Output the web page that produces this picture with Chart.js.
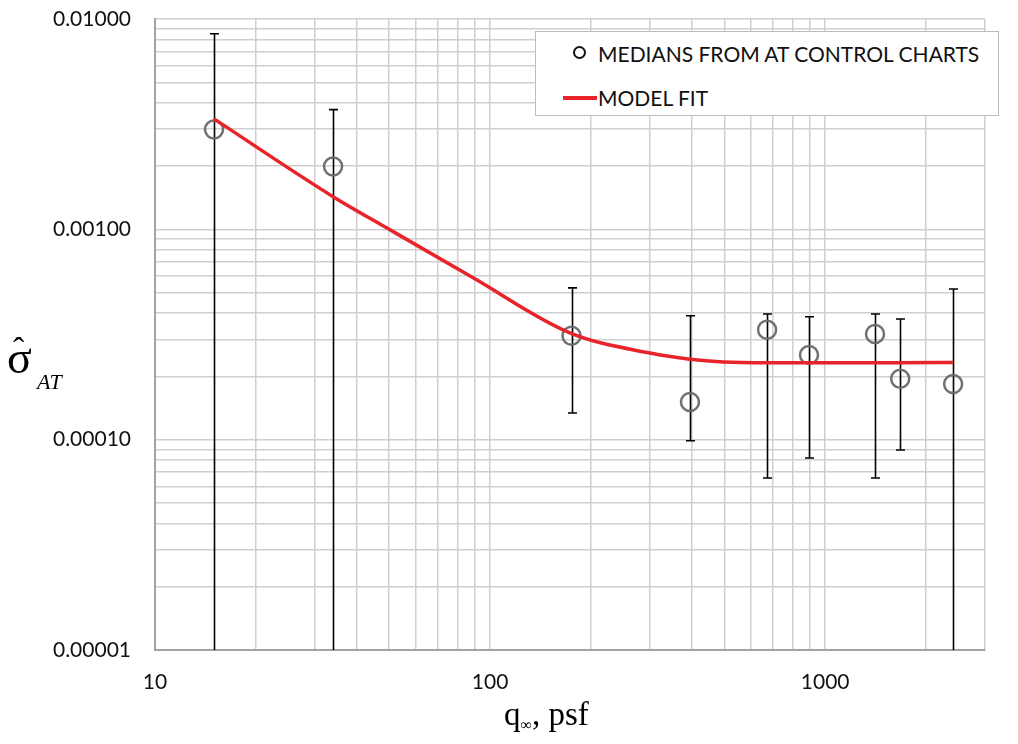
<!DOCTYPE html>
<html>
<head>
<meta charset="utf-8">
<script src="https://cdn.jsdelivr.net/npm/chart.js@4.4.1/dist/chart.umd.min.js"></script>
<style>
  html, body { margin: 0; padding: 0; background: #fff; }
  #wrap { position: relative; width: 1018px; height: 744px; overflow: hidden; }
  #c { position: absolute; left: 0; top: 0; }
  .ov { position: absolute; white-space: nowrap; color: #000; }
  #legend { position: absolute; left: 535px; top: 31px; width: 464px; height: 85px;
            border: 1px solid #bdbdbd; background: #fff; box-sizing: border-box; }
  .lgtext { position: absolute; left: 62px; font-family: Lato, 'Open Sans', sans-serif; font-size: 21px;
            line-height: 24px; color: #111; }
  .lgcirc { position: absolute; left: 37px; top: 14px; width: 13px; height: 13px; border: 2px solid #111;
            border-radius: 50%; box-sizing: border-box; }
  .lgline { position: absolute; left: 27px; top: 64px; width: 34px; height: 4px; background: #e8242a; }
  .serif { font-family: 'Liberation Serif', 'DejaVu Serif', serif; }
</style>
</head>
<body>
<div id="wrap">
  <canvas id="c" width="1018" height="744"></canvas>
  <div id="legend">
    <div class="lgcirc"></div>
    <div class="lgtext" style="top:10px;">MEDIANS FROM AT CONTROL CHARTS</div>
    <div class="lgline"></div>
    <div class="lgtext" style="top:54px;">MODEL FIT</div>
  </div>
  <div class="ov serif" style="left:7px; top:333px; font-size:46px; line-height:50px;">σ</div>
  <div class="ov serif" style="left:13px; top:333px; font-size:34px; line-height:34px;">ˆ</div>
  <div class="ov serif" style="left:37px; top:369px; font-size:22px; line-height:26px; font-style:italic;">AT</div>
  <div class="ov serif" style="left:504px; top:695px; font-size:33px; line-height:38px;">q<span style="font-size:16px; position:relative; top:5px;">∞</span>, psf</div>
</div>
<script>
// ---- data ----
const medianQ   = [15, 34, 175, 395, 671, 895, 1409, 1675, 2410];
const medianSig = [0.00298, 0.00199, 0.000312, 0.000151, 0.000333, 0.000253, 0.000318, 0.000195, 0.000184];
const errHigh   = [0.00851, 0.00371, 0.000527, 0.000388, 0.000396, 0.000384, 0.000396, 0.000375, 0.00052];
const errLow    = [0.000001, 0.000001, 0.000134, 0.0000988, 0.0000657, 0.0000818, 0.0000657, 0.0000893, 0.000001];

const fitQ   = [15, 34, 50, 89, 173, 300, 395, 497, 671, 895, 1409, 1675, 2410];
const fitSig = [0.00335, 0.00143, 0.00100, 0.000588, 0.000322, 0.000258, 0.000241, 0.000234, 0.000232, 0.000232, 0.000232, 0.000232, 0.000233];

const xTickDecades = [10, 100, 1000];
const yTickDecades = [0.00001, 0.0001, 0.001, 0.01];

// grid values (1..9 multiples of each decade)
function logGrid(minV, maxV) {
  const out = [];
  for (let e = Math.floor(Math.log10(minV)); e <= Math.ceil(Math.log10(maxV)); e++) {
    for (let s = 1; s <= 9; s++) {
      const v = parseFloat((s * Math.pow(10, e)).toPrecision(6));
      if (v >= minV * 0.9999 && v <= maxV * 1.0001) out.push(v);
    }
  }
  return out;
}
const X_MIN = 10, X_MAX = 3000, Y_MIN = 0.00001, Y_MAX = 0.01;

const errorBars = {
  id: 'errorBars',
  beforeDatasetsDraw(chart) {
    const { ctx, chartArea, scales } = chart;
    const xs = scales.x, ys = scales.y;
    ctx.save();
    ctx.beginPath();
    ctx.rect(chartArea.left, chartArea.top, chartArea.right - chartArea.left, chartArea.bottom - chartArea.top);
    ctx.clip();
    ctx.strokeStyle = '#000';
    ctx.lineWidth = 1.6;
    const cap = 4.5;
    medianQ.forEach((q, i) => {
      const px = Math.round(xs.getPixelForValue(q)) + 0.5;
      const yt = ys.getPixelForValue(errHigh[i]);
      let yb = ys.getPixelForValue(errLow[i]);
      const bottomCap = yb <= chartArea.bottom;
      yb = Math.min(yb, chartArea.bottom + 2);
      ctx.beginPath();
      ctx.moveTo(px, yt); ctx.lineTo(px, yb);
      ctx.moveTo(px - cap, yt); ctx.lineTo(px + cap, yt);
      if (bottomCap) { ctx.moveTo(px - cap, yb); ctx.lineTo(px + cap, yb); }
      ctx.stroke();
    });
    ctx.restore();
  }
};

const PAD_TOP = 19, PAD_RIGHT = 33, Y_AXIS_W = 155, X_AXIS_H = 94;

new Chart(document.getElementById('c'), {
  type: 'scatter',
  data: {
    datasets: [
      {
        label: 'MODEL FIT',
        type: 'line',
        data: fitQ.map((q, i) => ({ x: q, y: fitSig[i] })),
        borderColor: '#e8242a',
        borderWidth: 3.5,
        pointRadius: 0,
        fill: false,
        cubicInterpolationMode: 'monotone',
        order: 0
      },
      {
        label: 'MEDIANS FROM AT CONTROL CHARTS',
        data: medianQ.map((q, i) => ({ x: q, y: medianSig[i] })),
        showLine: false,
        pointStyle: 'circle',
        pointRadius: 9,
        pointBorderWidth: 2.5,
        borderColor: 'rgba(105,105,105,0.95)',
        backgroundColor: 'rgba(0,0,0,0)',
        order: 1
      }
    ]
  },
  options: {
    responsive: false,
    animation: false,
    devicePixelRatio: 1,
    layout: { padding: { top: PAD_TOP, right: PAD_RIGHT, left: 0, bottom: 0 } },
    plugins: { legend: { display: false }, tooltip: { enabled: false } },
    scales: {
      x: {
        type: 'logarithmic',
        min: X_MIN, max: X_MAX,
        afterBuildTicks: (s) => { s.ticks = logGrid(X_MIN, X_MAX).map(v => ({ value: v })); },
        afterFit: (s) => { s.height = X_AXIS_H; s.paddingLeft = 0; s.paddingRight = 0; },
        ticks: {
          autoSkip: false, maxRotation: 0, padding: 20,
          color: '#111',
          font: { family: 'Lato', size: 21 },
          callback: (v) => xTickDecades.some(d => Math.abs(d - v) < 1e-9) ? String(v) : ''
        },
        grid: { color: '#cfcfcf', lineWidth: 1.5, drawTicks: false },
        border: { color: '#a3a3a3', width: 2 }
      },
      y: {
        type: 'logarithmic',
        min: Y_MIN, max: Y_MAX,
        afterBuildTicks: (s) => { s.ticks = logGrid(Y_MIN, Y_MAX).map(v => ({ value: v })); },
        afterFit: (s) => { s.width = Y_AXIS_W; s.paddingTop = 0; s.paddingBottom = 0; },
        ticks: {
          autoSkip: false, padding: 24,
          color: '#111',
          font: { family: 'Lato', size: 21 },
          callback: (v) => yTickDecades.some(d => Math.abs(d - v) / d < 1e-6) ? Number(v).toFixed(5) : ''
        },
        grid: { color: '#cfcfcf', lineWidth: 1.5, drawTicks: false },
        border: { color: '#a3a3a3', width: 2 }
      }
    }
  },
  plugins: [errorBars]
});
</script>
</body>
</html>
